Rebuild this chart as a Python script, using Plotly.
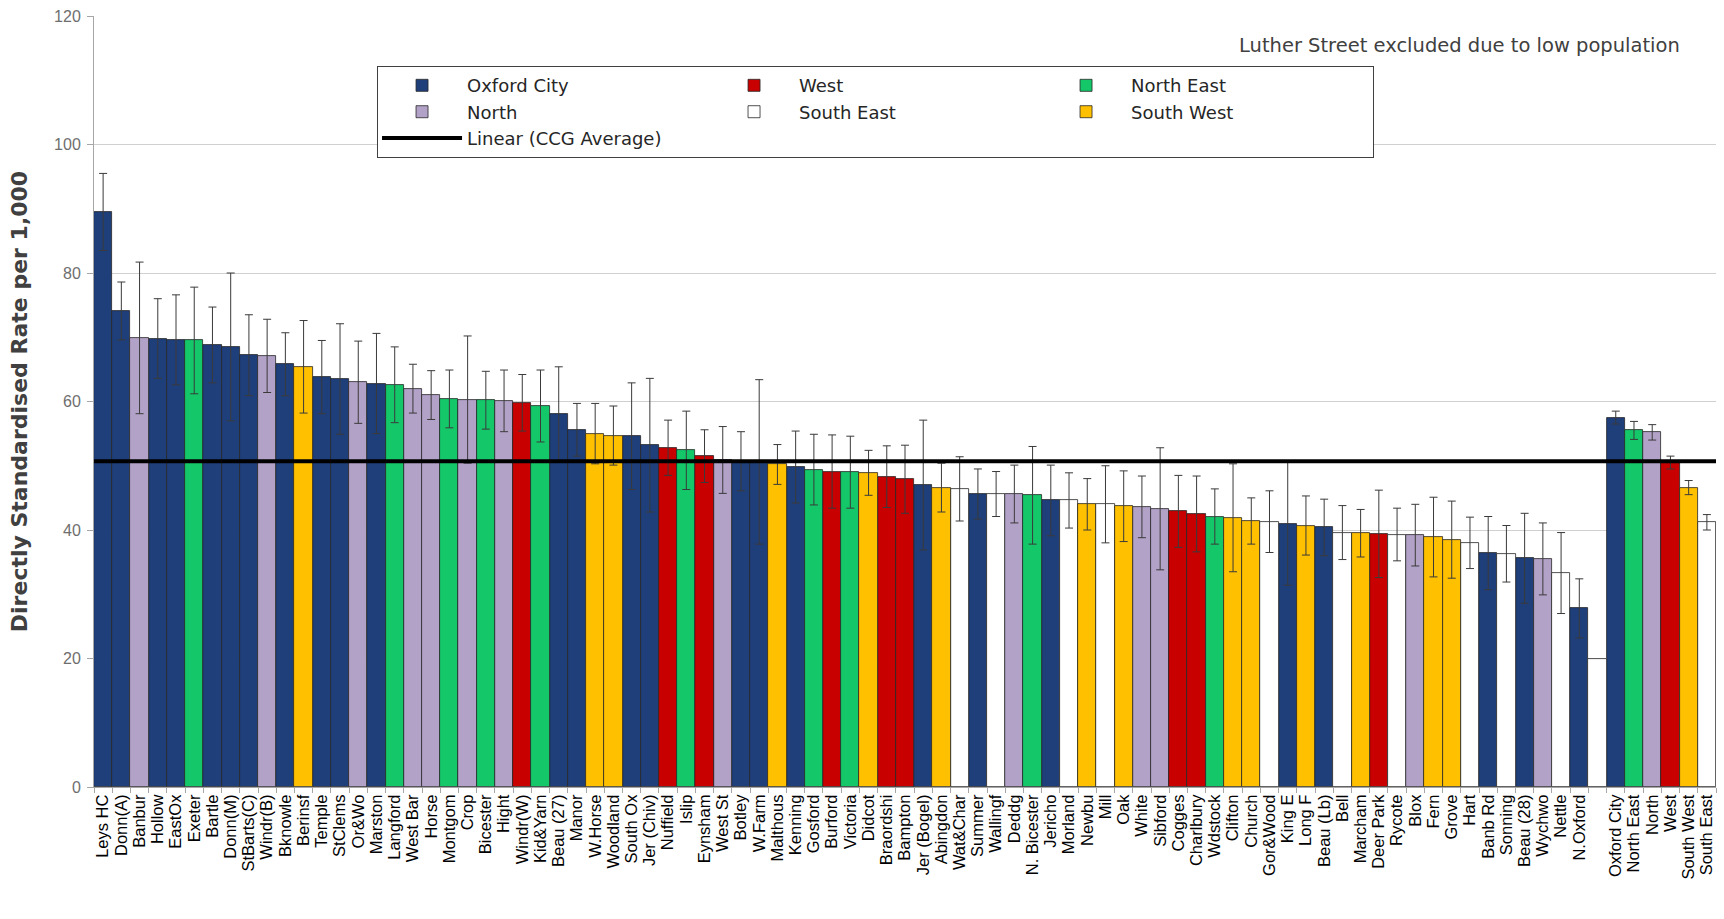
import plotly.graph_objects as go

# Practice-level directly standardised rates (per 1,000) with 95% CI half-widths
practices = [
    "Leys HC", "Donn(A)", "Banbur", "Hollow", "EastOx", "Exeter", "Bartle", "Donn(M)",
    "StBarts(C)", "Windr(B)", "Bknowle", "Berinsf", "Temple", "StClems", "Or&Wo", "Marston",
    "Langford", "West Bar", "Horse", "Montgom", "Crop", "Bicester", "Hight", "Windr(W)",
    "Kid&Yarn", "Beau (27)", "Manor", "W.Horse", "Woodland", "South Ox", "Jer (Chiv)", "Nuffield",
    "Islip", "Eynsham", "West St", "Botley", "W.Farm", "Malthous", "Kenning", "Gosford",
    "Burford", "Victoria", "Didcot", "Braordshi", "Bampton", "Jer (Bogel)", "Abingdon", "Wat&Char",
    "Summer", "Wallingf", "Deddg", "N. Bicester", "Jericho", "Morland", "Newbu", "Mill",
    "Oak", "White", "Sibford", "Cogges", "Charlbury", "Wdstock", "Clifton", "Church",
    "Gor&Wood", "King E", "Long F", "Beau (Lb)", "Bell", "Marcham", "Deer Park", "Rycote",
    "Blox", "Fern", "Grove", "Hart", "Banb Rd", "Sonning", "Beau (28)", "Wychwo",
    "Nettle", "N.Oxford",
]
practice_locality = [
    "Oxford City", "Oxford City", "North", "Oxford City", "Oxford City", "North East", "Oxford City", "Oxford City",
    "Oxford City", "North", "Oxford City", "South West", "Oxford City", "Oxford City", "North", "Oxford City",
    "North East", "North", "North", "North East", "North", "North East", "North", "West",
    "North East", "Oxford City", "Oxford City", "South West", "South West", "Oxford City", "Oxford City", "West",
    "North East", "West", "North", "Oxford City", "Oxford City", "South West", "Oxford City", "North East",
    "West", "North East", "South West", "West", "West", "Oxford City", "South West", "South East",
    "Oxford City", "South East", "North", "North East", "Oxford City", "South East", "South West", "South East",
    "South West", "North", "North", "West", "West", "North East", "South West", "South West",
    "South East", "Oxford City", "South West", "Oxford City", "South East", "South West", "West", "South East",
    "North", "South West", "South West", "South East", "Oxford City", "South East", "Oxford City", "North",
    "South East", "Oxford City",
]
practice_rate = [
    89.5, 74.1, 69.9, 69.8, 69.6, 69.5, 68.8, 68.5,
    67.2, 67.1, 65.8, 65.4, 63.8, 63.5, 63.0, 62.8,
    62.6, 62.0, 61.0, 60.4, 60.3, 60.2, 60.1, 59.8,
    59.3, 58.0, 55.6, 55.0, 54.7, 54.6, 53.2, 52.8,
    52.4, 51.5, 50.9, 50.7, 50.6, 50.2, 49.8, 49.4,
    49.1, 49.0, 48.9, 48.3, 47.9, 47.0, 46.6, 46.4,
    45.6, 45.6, 45.6, 45.4, 44.6, 44.6, 44.0, 44.0,
    43.7, 43.6, 43.3, 42.9, 42.5, 42.1, 41.9, 41.4,
    41.3, 41.0, 40.7, 40.4, 39.6, 39.5, 39.4, 39.3,
    39.2, 38.9, 38.5, 38.0, 36.4, 36.3, 35.6, 35.5,
    33.3, 27.8,
]
practice_ci = [
    6.0, 4.5, 11.8, 6.2, 7.0, 8.3, 5.9, 11.5,
    6.3, 5.7, 4.9, 7.2, 5.7, 8.6, 6.4, 7.8,
    5.9, 3.8, 3.8, 4.5, 9.9, 4.5, 4.8, 4.4,
    5.6, 7.4, 4.1, 4.7, 4.6, 8.3, 10.4, 4.3,
    6.1, 4.1, 5.2, 4.6, 12.8, 3.1, 5.6, 5.5,
    5.7, 5.6, 3.5, 4.8, 5.3, 10.1, 3.8, 5.0,
    3.9, 3.5, 4.5, 7.6, 5.5, 4.3, 4.0, 6.0,
    5.5, 4.8, 9.5, 5.6, 5.9, 4.3, 8.4, 3.6,
    4.8, 9.6, 4.6, 4.4, 4.2, 3.7, 6.8, 4.1,
    4.8, 6.2, 6.0, 4.0, 5.7, 4.4, 7.0, 5.6,
    6.3, 4.6,
]

# Empty separator slot between practices and locality totals
spacer_label = " "
spacer_value = 20

# Locality totals
localities = ["Oxford City", "North East", "North", "West", "South West", "South East"]
locality_rate = [57.5, 55.5, 55.2, 50.5, 46.6, 41.2]
locality_ci = [1.0, 1.4, 1.2, 1.0, 1.1, 1.2]

ccg_average = 50.7

colours = {
    "Oxford City": "#1F3F7B",
    "West": "#C80000",
    "North East": "#14C86A",
    "North": "#B3A2C7",
    "South East": "#FFFFFF",
    "South West": "#FFC000",
}

# legend columns: (locality, legend group)
legend_layout = [
    ("Oxford City", "c1"), ("North", "c1"),
    ("West", "c2"), ("South East", "c2"),
    ("North East", "c3"), ("South West", "c3"),
]

categories = practices + [spacer_label] + localities
bar_labels = practices + localities
all_rate = practice_rate + locality_rate
all_ci = practice_ci + locality_ci
all_group = practice_locality + localities

SANS = "Liberation Sans, Arial, sans-serif"
WIDE = "DejaVu Sans, Verdana, sans-serif"

fig = go.Figure()

for name, grp in legend_layout:
    xs = [c for c, g in zip(bar_labels, all_group) if g == name]
    ys = [v for v, g in zip(all_rate, all_group) if g == name]
    es = [e for e, g in zip(all_ci, all_group) if g == name]
    fig.add_trace(go.Bar(
        x=xs, y=ys, name=name, legendgroup=grp,
        marker=dict(color=colours[name], line=dict(color="#262626", width=0.8)),
        error_y=dict(type="data", array=es, visible=True, color="#3a3a3a", thickness=1, width=4),
        hovertemplate="%{x}: %{y:.1f}<extra>" + name + "</extra>",
    ))
    if name == "North":
        # CCG average line on an overlaid numeric axis so it spans the full width
        fig.add_trace(go.Scatter(
            x=[0, 1], y=[ccg_average, ccg_average], xaxis="x2", yaxis="y",
            mode="lines", name="Linear (CCG Average)", legendgroup="c1",
            line=dict(color="#000000", width=4), hoverinfo="skip",
        ))

fig.add_trace(go.Bar(
    x=[spacer_label], y=[spacer_value], showlegend=False, hoverinfo="skip",
    marker=dict(color="#FFFFFF", line=dict(color="#262626", width=0.8)),
))

fig.update_layout(
    width=1724, height=919,
    margin=dict(l=94, r=8, t=16, b=132),
    paper_bgcolor="white", plot_bgcolor="white",
    barmode="overlay", bargap=0,
    showlegend=True,
    legend=dict(
        orientation="h", traceorder="grouped",
        x=0.1745, y=0.935, xanchor="left", yanchor="top",
        bordercolor="#404040", borderwidth=1, bgcolor="white",
        font=dict(family=WIDE, size=18, color="#262626"),
        entrywidth=237, entrywidthmode="pixels",
        itemwidth=80, tracegroupgap=0,
    ),
    xaxis=dict(
        type="category", categoryorder="array", categoryarray=categories,
        range=[-0.5, len(categories) - 0.5],
        tickmode="linear", tick0=0, dtick=1,
        tickangle=-90, tickfont=dict(family=SANS, size=16.5, color="#000000"),
        ticks="outside", tickson="boundaries", ticklen=5, tickcolor="#a6a6a6",
        showline=True, linecolor="#a6a6a6", linewidth=1, showgrid=False,
        fixedrange=True,
    ),
    xaxis2=dict(overlaying="x", range=[0, 1], visible=False, fixedrange=True),
    yaxis=dict(
        range=[0, 120], tickvals=[0, 20, 40, 60, 80, 100, 120],
        tickfont=dict(family=SANS, size=16, color="#6e6e6e"),
        ticks="outside", ticklen=6, tickcolor="#a6a6a6", ticklabelstandoff=3,
        showline=True, linecolor="#a6a6a6", linewidth=1,
        showgrid=True, gridcolor="#d0d0d0", gridwidth=1, zeroline=False,
        title=dict(text="<b>Directly Standardised Rate per 1,000</b>",
                   font=dict(family=WIDE, size=22, color="#404040"),
                   standoff=20),
        fixedrange=True,
    ),
    annotations=[dict(
        text="Luther Street excluded due to low population",
        xref="paper", yref="paper", x=0.979, y=0.962, xanchor="right", yanchor="middle",
        showarrow=False, font=dict(family=WIDE, size=19.5, color="#404040"),
    )],
)

fig.write_html("out.html")
